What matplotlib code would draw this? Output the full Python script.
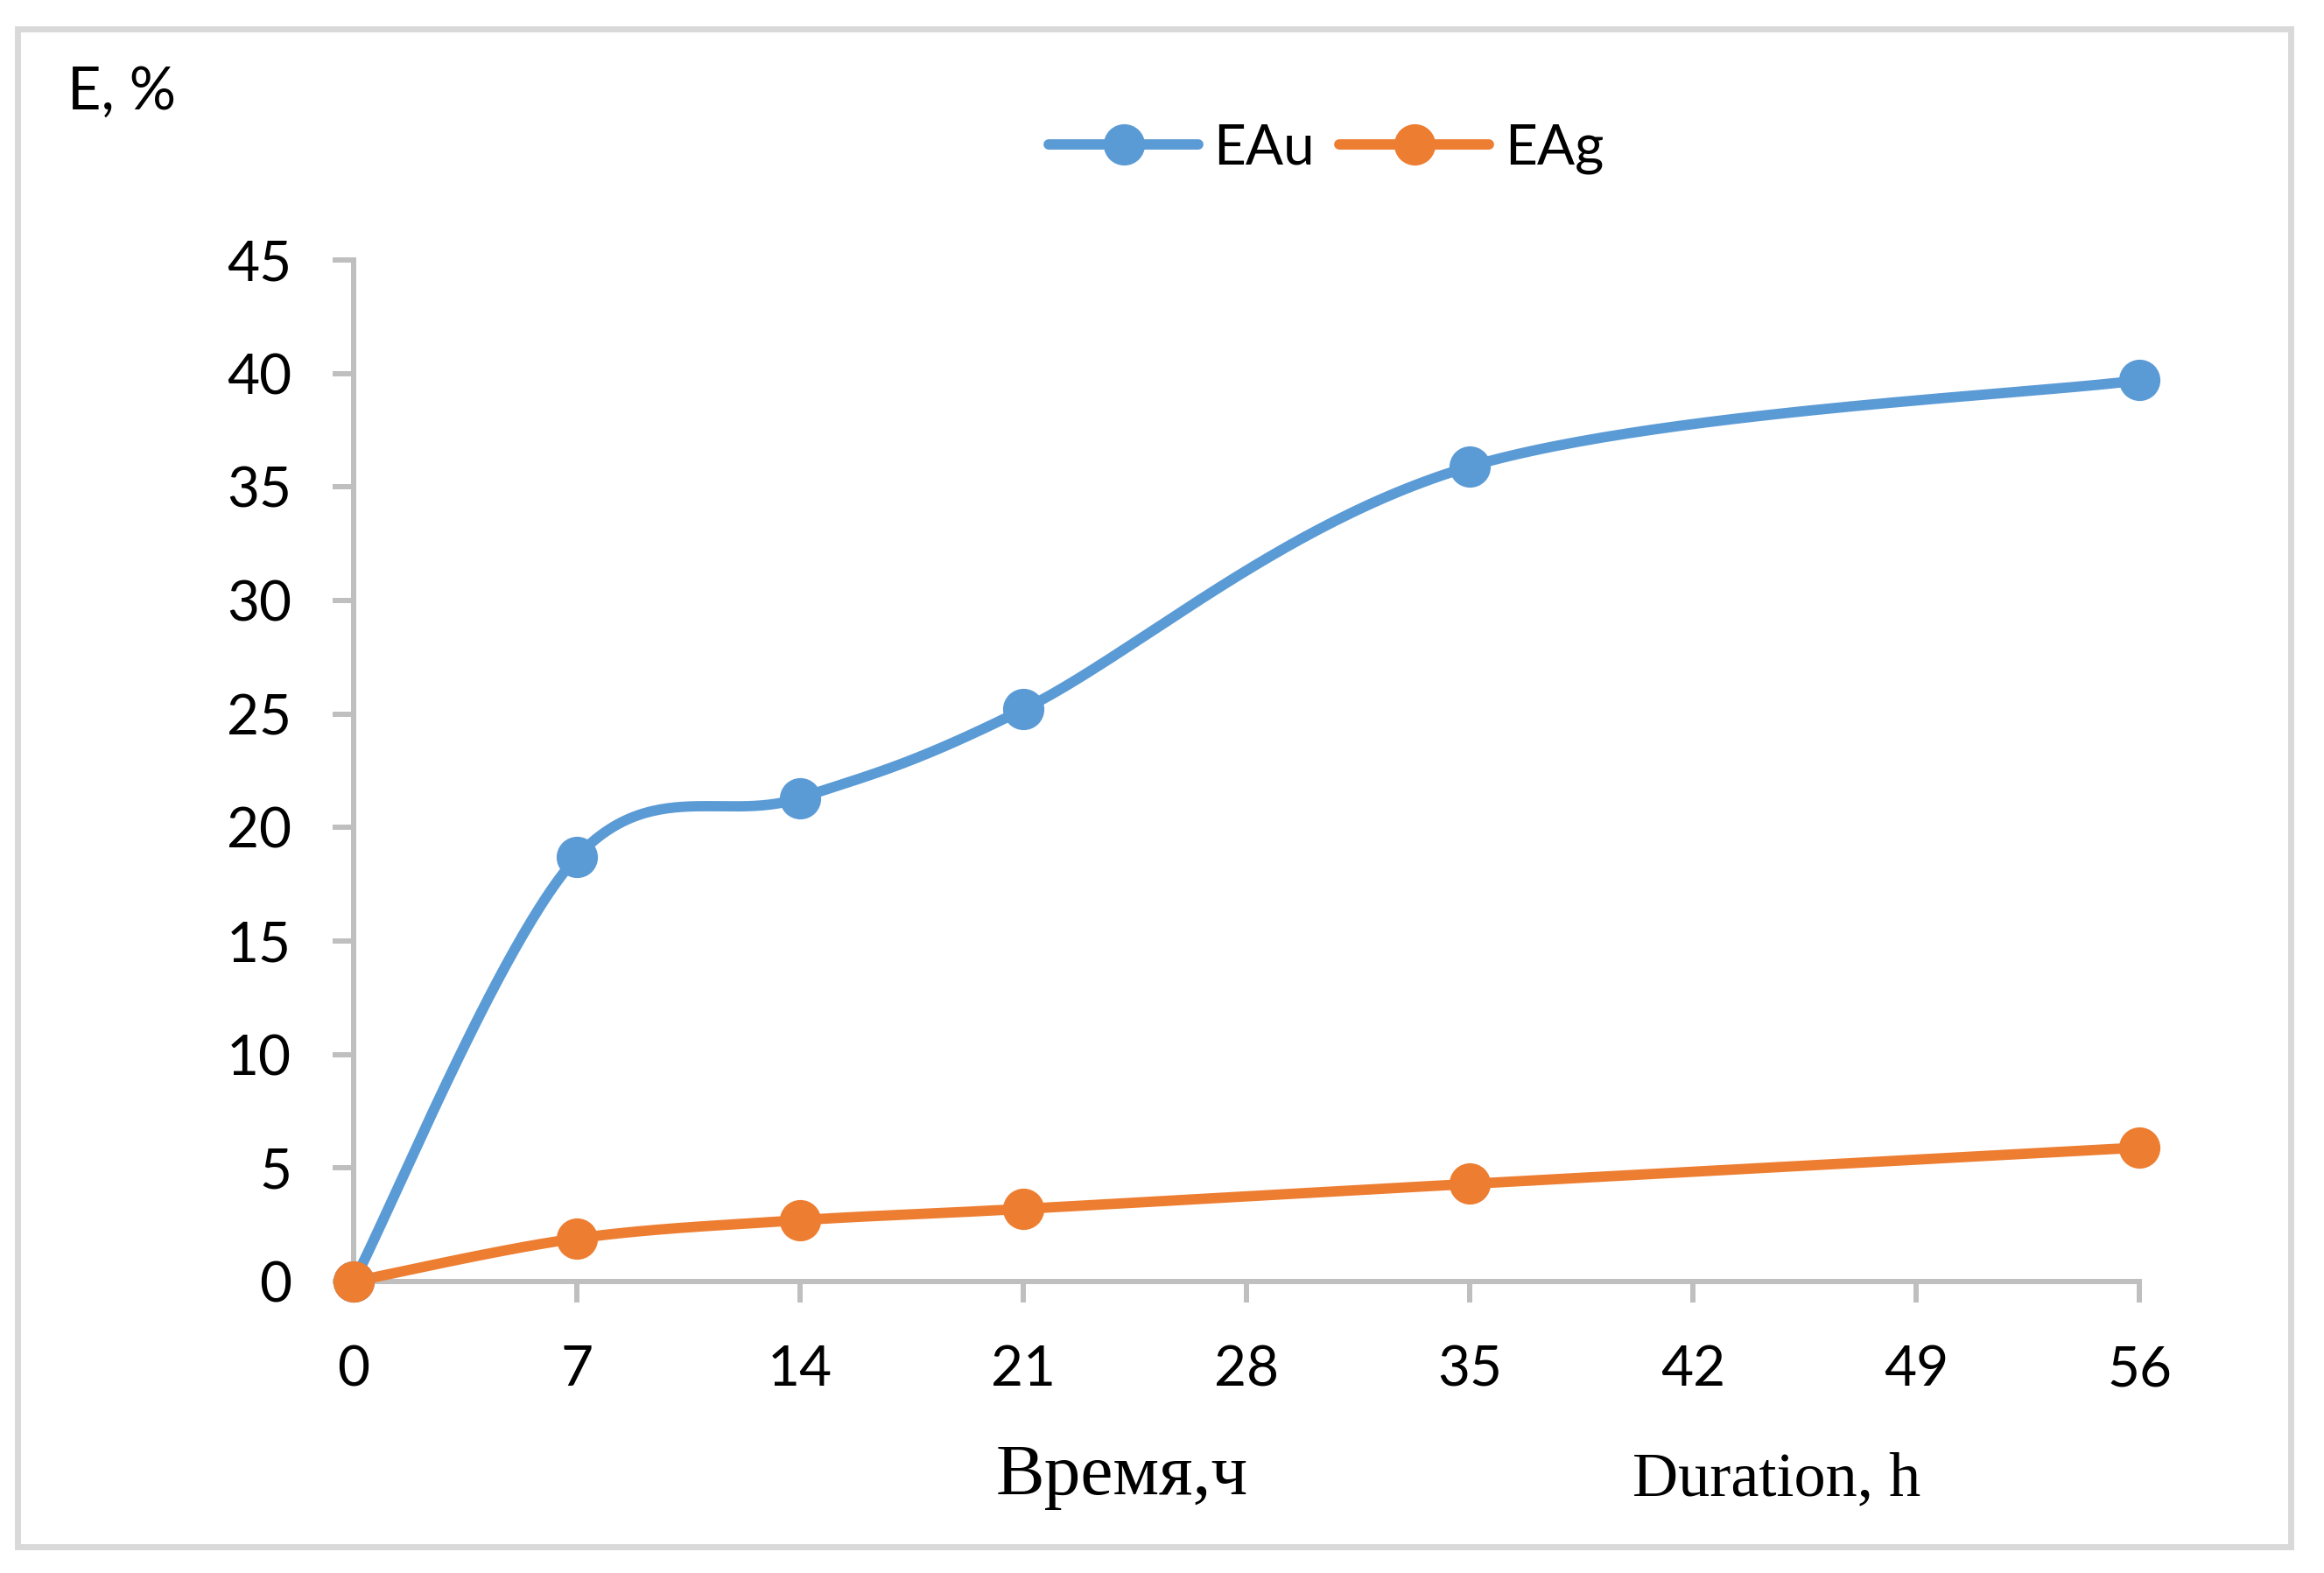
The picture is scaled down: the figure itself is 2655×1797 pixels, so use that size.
import numpy as np
import matplotlib
matplotlib.use("Agg")
import matplotlib.pyplot as plt
from matplotlib.patches import Rectangle

# ---- data ----
hours = [0, 7, 14, 21, 35, 56]
eau = [0.0, 18.7, 21.3, 25.2, 35.9, 39.7]
eag = [0.0, 1.9, 2.7, 3.2, 4.3, 5.9]
series_names = ["EAu", "EAg"]
x_ticks = [0, 7, 14, 21, 28, 35, 42, 49, 56]
y_ticks = [0, 5, 10, 15, 20, 25, 30, 35, 40, 45]
y_label = "E, %"
x_label_ru = "Время,ч"
x_label_en = "Duration, h"

BLUE = "#5B9BD5"
ORANGE = "#ED7D31"
AXC = "#BFBFBF"


def smooth(xs, ys, n=60):
    """Excel-like smoothed line (Catmull-Rom Bezier)."""
    xs = np.asarray(xs, float)
    ys = np.asarray(ys, float)
    P = np.column_stack([xs, ys])
    out = []
    m = len(P)
    for i in range(m - 1):
        p0 = P[i - 1] if i > 0 else P[i]
        p1 = P[i]
        p2 = P[i + 1]
        p3 = P[i + 2] if i + 2 < m else P[i + 1]
        c1 = p1 + (p2 - p0) / 6.0
        c2 = p2 - (p3 - p1) / 6.0
        t = np.linspace(0, 1, n)[:, None]
        seg = ((1 - t) ** 3) * p1 + 3 * ((1 - t) ** 2) * t * c1 + 3 * (1 - t) * t ** 2 * c2 + t ** 3 * p2
        out.append(seg if i == 0 else seg[1:])
    a = np.vstack(out)
    return a[:, 0], a[:, 1]


plt.rcParams["font.family"] = ["Lato", "DejaVu Sans"]

W, H = 2655, 1797
fig = plt.figure(figsize=(W / 100, H / 100), dpi=100)

# outer border
fig.patches.append(Rectangle((20 / W, 1 - 1767 / H), (2617 - 20) / W, (1767 - 33) / H,
                             transform=fig.transFigure, fill=False,
                             edgecolor="#D9D9D9", linewidth=5))

ax = fig.add_axes([404 / W, 1 - 1464 / H, (2444 - 404) / W, (1464 - 297) / H])

for name, vals, col in [(series_names[0], eau, BLUE), (series_names[1], eag, ORANGE)]:
    sx, sy = smooth(hours, vals)
    ax.plot(sx, sy, color=col, linewidth=8.5, solid_capstyle="round", clip_on=False, zorder=3)
    ax.plot(hours, vals, linestyle="none", marker="o", markersize=34, color=col,
            markeredgewidth=0, clip_on=False, zorder=4)
    # legend proxy
    ax.plot([], [], color=col, linewidth=8.5, marker="o", markersize=34,
            markeredgewidth=0, solid_capstyle="round", label=name)

ax.set_xlim(0, 56)
ax.set_ylim(0, 45)
ax.set_xticks(x_ticks)
ax.set_yticks(y_ticks)
ax.set_xticklabels([str(v) for v in x_ticks])
ax.set_yticklabels([str(v) for v in y_ticks])

for s in ["top", "right"]:
    ax.spines[s].set_visible(False)
for s in ["left", "bottom"]:
    ax.spines[s].set_color(AXC)
    ax.spines[s].set_linewidth(4.3)
    ax.spines[s].set_zorder(1)

ax.tick_params(axis="both", direction="out", length=17, width=4.3, color=AXC,
               labelsize=46, labelcolor="black")
ax.tick_params(axis="x", pad=35)
ax.tick_params(axis="y", pad=34)

leg = ax.legend(loc="center", bbox_to_anchor=(1515 / W, 1 - 170 / H),
                bbox_transform=fig.transFigure, ncol=2, frameon=False,
                fontsize=46, handlelength=2.68, handletextpad=0.27,
                columnspacing=0.44, numpoints=1, borderpad=0, borderaxespad=0)

fig.text(77 / W, 1 - 125 / H, y_label, fontsize=48, ha="left", va="baseline")
fig.text(1282 / W, 1 - 1707 / H, x_label_ru, fontsize=60, ha="center", va="baseline",
         family=["Liberation Serif", "DejaVu Serif"])
fig.text(2030 / W, 1 - 1708 / H, x_label_en, fontsize=52, ha="center", va="baseline",
         family=["Liberation Serif", "DejaVu Serif"])

fig.savefig("out.png", dpi=100, facecolor="white")
